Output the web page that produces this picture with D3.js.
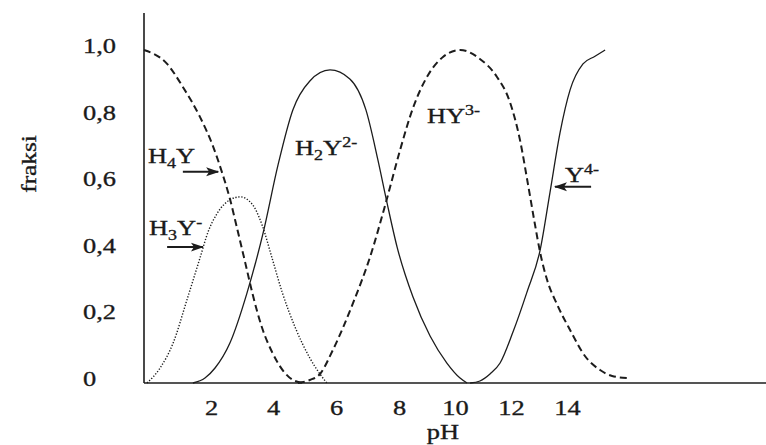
<!DOCTYPE html>
<html>
<head>
<meta charset="utf-8">
<script src="https://cdn.jsdelivr.net/npm/d3@7"></script>
<style>
  html, body { margin: 0; padding: 0; background: #ffffff; }
  svg { display: block; }
  text { font-family: "Liberation Serif", "Times New Roman", serif; fill: #1a1a1a; stroke: #1a1a1a; stroke-width: 0.35px; }
</style>
</head>
<body>
<svg id="chart" width="766" height="445"></svg>
<script>
// ---------- data ----------
const xTicks = [2, 4, 6, 8, 10, 12, 14];
const xTickLabels = ["2", "4", "6", "8", "10", "12", "14"];
const yTicks = [0, 0.2, 0.4, 0.6, 0.8, 1.0];
const yTickLabels = ["0", "0,2", "0,4", "0,6", "0,8", "1,0"];

const species = ["H4Y", "H3Y-", "H2Y2-", "HY3-", "Y4-"];

// [pH, fraksi]
const h4y = [[0,1.00],[0.69,0.958],[1.16,0.889],[1.67,0.799],[2.06,0.712],[2.35,0.634],[2.61,0.553],
  [2.84,0.465],[3.10,0.363],[3.35,0.264],[3.65,0.165],[3.97,0.093],[4.38,0.030],[4.70,0.006],[5.02,0]];
const h3y = [[0.09,0],[0.48,0.045],[0.87,0.120],[1.28,0.249],[1.67,0.375],[1.91,0.453],[2.19,0.508],
  [2.61,0.550],[2.94,0.559],[3.32,0.538],[3.65,0.474],[3.97,0.375],[4.29,0.273],[4.70,0.168],
  [5.17,0.075],[5.49,0.027],[5.71,0]];
const h2y = [[1.46,0],[1.82,0.015],[2.13,0.045],[2.61,0.120],[3.16,0.270],[3.68,0.450],[4.16,0.655],
  [4.63,0.820],[5.17,0.907],[5.81,0.940],[6.44,0.913],[6.95,0.820],[7.33,0.670],[7.62,0.541],
  [7.94,0.408],[8.50,0.258],[9.11,0.141],[9.71,0.060],[10.18,0.015],[10.43,0]];
const hy3 = [[4.79,0],[5.17,0.009],[5.49,0.027],[5.90,0.099],[6.54,0.240],[7.08,0.378],[7.59,0.544],
  [8.04,0.700],[8.50,0.826],[9.04,0.925],[9.57,0.979],[10.18,1.0],[10.89,0.973],[11.50,0.919],
  [11.96,0.844],[12.32,0.730],[12.61,0.595],[12.86,0.474],[13.04,0.392],[13.29,0.309],[13.64,0.237],
  [14.11,0.159],[14.64,0.081],[15.18,0.039],[15.61,0.021],[16.14,0.015]];
const y4 = [[10.54,0],[10.89,0.006],[11.25,0.027],[11.61,0.060],[12.07,0.153],[12.57,0.273],[13.04,0.399],
  [13.39,0.571],[13.75,0.751],[14.11,0.880],[14.57,0.958],[15.0,0.981],[15.36,1.0]];

// ---------- layout ----------
const svg = d3.select("#chart");
const SX = 1.2; // horizontal stretch of the original lettering

// the original's tick labels are not evenly spaced: a piecewise-linear scale reproduces them
const x = d3.scaleLinear()
  .domain([0, 2, 4, 6, 8, 10, 12, 14, 21.1])
  .range([144, 211, 273, 336, 399, 455, 511, 567, 766]);
const y = d3.scaleLinear().domain([0, 1.111]).range([383, 13]);

const ink = "#1c1c1c";

// ---------- axes ----------
const gx = svg.append("g").attr("transform", `translate(0,${y(0)})`)
  .call(d3.axisBottom(x).tickValues(xTicks).tickSize(0).tickFormat((d, i) => xTickLabels[i]));
gx.select(".domain").remove();
gx.selectAll("text")
  .attr("y", 0).attr("dy", 0)
  .attr("transform", `translate(0,32) scale(${SX},1)`)
  .style("font-size", "22px")
  .style("font-family", "'Liberation Serif', serif")
  .attr("fill", ink);

const gy = svg.append("g").attr("transform", `translate(${x(0)},0)`)
  .call(d3.axisLeft(y).tickValues(yTicks).tickSize(0).tickFormat((d, i) => yTickLabels[i]));
gy.select(".domain").remove();
gy.selectAll("text")
  .attr("x", 0).attr("dy", "0.11em")
  .attr("text-anchor", "start")
  .attr("transform", `translate(-61,0) scale(${SX},1)`)
  .style("font-size", "22px")
  .style("font-family", "'Liberation Serif', serif")
  .attr("fill", ink);

// axis lines
svg.append("line")
  .attr("x1", x(0)).attr("x2", x(0)).attr("y1", y(1.111)).attr("y2", y(0))
  .attr("stroke", ink).attr("stroke-width", 1.6);
svg.append("line")
  .attr("x1", x(0)).attr("x2", x(21.1)).attr("y1", y(0)).attr("y2", y(0))
  .attr("stroke", ink).attr("stroke-width", 1.6);

// axis titles
svg.append("text")
  .attr("transform", `translate(443,439) scale(${SX},1)`)
  .attr("text-anchor", "middle").style("font-size", "22px").text("pH");
svg.append("text")
  .attr("transform", `translate(36,164) rotate(-90) scale(1.15,1)`)
  .attr("text-anchor", "middle").style("font-size", "22px").text("fraksi");

// ---------- curves ----------
const line = d3.line().x(d => x(d[0])).y(d => y(d[1])).curve(d3.curveMonotoneX);

const curves = [
  { data: h4y, dash: "7,4", width: 2.0 },
  { data: h3y, dash: "1.3,1.7", width: 1.4 },
  { data: h2y, dash: null, width: 1.3 },
  { data: hy3, dash: "7,4", width: 2.0 },
  { data: y4, dash: null, width: 1.3 }
];
curves.forEach(c => {
  svg.append("path")
    .datum(c.data)
    .attr("d", line)
    .attr("fill", "none")
    .attr("stroke", ink)
    .attr("stroke-width", c.width)
    .attr("stroke-dasharray", c.dash);
});

// ---------- labels & arrows ----------
svg.append("defs").append("marker")
  .attr("id", "ah").attr("viewBox", "0 -5 13 10")
  .attr("refX", 12).attr("refY", 0)
  .attr("markerWidth", 13).attr("markerHeight", 10)
  .attr("markerUnits", "userSpaceOnUse").attr("orient", "auto")
  .append("path").attr("d", "M0,-4.5L13,0L0,4.5L3,0Z").attr("fill", ink);

const arrows = [
  { from: [1.16, 0.634], to: [2.23, 0.634] },
  { from: [0.69, 0.408], to: [1.76, 0.408] },
  { from: [14.86, 0.589], to: [13.57, 0.589] }
];
arrows.forEach(a => {
  svg.append("line")
    .attr("x1", x(a.from[0])).attr("y1", y(a.from[1]))
    .attr("x2", x(a.to[0])).attr("y2", y(a.to[1]))
    .attr("stroke", ink).attr("stroke-width", 2)
    .attr("marker-end", "url(#ah)");
});

// label: [base, sub, base2, sup], anchored at (pH, fraksi)
const labels = [
  { parts: ["H", "4", "Y", ""], at: [0.12, 0.661] },
  { parts: ["H", "3", "Y", "-"], at: [0.15, 0.444] },
  { parts: ["H", "2", "Y", "2-"], at: [4.70, 0.685] },
  { parts: ["", "", "HY", "3-"], at: [9.0, 0.781] },
  { parts: ["", "", "Y", "4-"], at: [13.93, 0.604] }
];
labels.forEach(l => {
  const t = svg.append("text")
    .attr("transform", `translate(${x(l.at[0])},${y(l.at[1])}) scale(${SX},1)`)
    .style("font-size", "22px");
  const [a, sub, b, sup] = l.parts;
  if (a) t.append("tspan").text(a);
  if (sub) t.append("tspan").attr("dy", 5).style("font-size", "15px").text(sub);
  t.append("tspan").attr("dy", sub ? -5 : 0).text(b);
  if (sup) t.append("tspan").attr("dy", -8).style("font-size", "15px").text(sup);
});
</script>
</body>
</html>
